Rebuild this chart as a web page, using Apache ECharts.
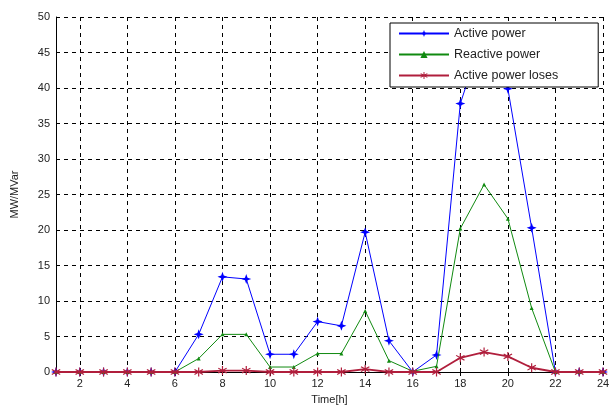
<!DOCTYPE html>
<html>
<head>
<meta charset="utf-8">
<script src="https://cdn.jsdelivr.net/npm/echarts@6/dist/echarts.min.js"></script>
<style>html,body{margin:0;padding:0;background:#fff}#c{width:613px;height:410px}</style>
</head>
<body>
<div id="c"></div>
<script>
const hours = ['1','2','3','4','5','6','7','8','9','10','11','12','13','14','15','16','17','18','19','20','21','22','23','24'];
const activePower = [0,0,0,0,0,0,5.3,13.4,13.1,2.5,2.5,7.1,6.5,19.7,4.4,0,2.4,37.8,48,39.9,20.3,0,0,0];
const reactivePower = [0,0,0,0,0,0,1.9,5.3,5.3,0.7,0.7,2.6,2.6,8.6,1.6,0.1,0.8,20.2,26.4,21.6,9.0,0,0,0];
const powerLosses = [0,0,0,0,0,0,0,0.2,0.2,0,0,0,0,0.4,0,0,0,2.0,2.8,2.2,0.6,0,0,0];
const seriesNames = ['Active power','Reactive power','Active power loses'];

const FONT = 'Liberation Sans';
const even = (i, v) => (+v) % 2 === 0;
const plusStar = 'path://M0,-5 L1.3,-1.3 L5,0 L1.3,1.3 L0,5 L-1.3,1.3 L-5,0 L-1.3,-1.3Z';
const asterisk = 'path://M-0.6,-5 L0.6,-5 L0.6,-1.3 L3.9,-3.2 L4.5,-2.2 L1.2,-0.1 L4.5,2.2 L3.9,3.2 L0.6,1.2 L0.6,5 L-0.6,5 L-0.6,1.2 L-3.9,3.2 L-4.5,2.2 L-1.2,-0.1 L-4.5,-2.2 L-3.9,-3.2 L-0.6,-1.3Z';

const chart = echarts.init(document.getElementById('c'), null, {renderer: 'canvas'});
const dashed = {show: true, lineStyle: {color: '#000', type: [4, 4], width: 1}};
chart.setOption({
  animation: false,
  backgroundColor: '#fff',
  textStyle: {fontFamily: FONT},
  grid: {left: 56, right: 10, top: 17, bottom: 34},
  legend: {
    orient: 'vertical', left: 390, top: 23,
    backgroundColor: '#fff', borderColor: '#000', borderWidth: 1, borderRadius: 0,
    padding: [4, 40, 5, 8], itemWidth: 50, itemHeight: 9, itemGap: 8,
    textStyle: {fontFamily: FONT, fontSize: 12.5, color: '#222'},
    data: seriesNames
  },
  xAxis: [{
    type: 'category', data: hours, boundaryGap: false,
    name: 'Time[h]', nameLocation: 'middle', nameGap: 22,
    nameTextStyle: {fontFamily: FONT, fontSize: 11, color: '#222'},
    axisLine: {show: true, lineStyle: {color: '#000', width: 1}},
    axisTick: {show: true, inside: true, length: 4, interval: even, lineStyle: {color: '#000'}},
    axisLabel: {interval: even, fontSize: 11, color: '#222', margin: 6},
    splitLine: Object.assign({interval: even}, dashed)
  }, {
    type: 'category', data: hours, boundaryGap: false, position: 'top',
    axisLine: {show: false},
    axisTick: {show: true, inside: true, length: 4, interval: even, lineStyle: {color: '#000'}},
    axisLabel: {show: false}, splitLine: {show: false}
  }],
  yAxis: [{
    type: 'value', min: 0, max: 50, interval: 5,
    name: 'MW/MVar', nameLocation: 'middle', nameGap: 36, nameRotate: 90,
    nameTextStyle: {fontFamily: FONT, fontSize: 11, color: '#222'},
    axisLine: {show: true, lineStyle: {color: '#000', width: 1}},
    axisTick: {show: true, inside: true, length: 4, lineStyle: {color: '#000'}},
    axisLabel: {fontSize: 11, color: '#222', margin: 6},
    splitLine: dashed
  }, {
    type: 'value', min: 0, max: 50, interval: 5, position: 'right',
    axisLine: {show: false},
    axisTick: {show: true, inside: true, length: 4, lineStyle: {color: '#000'}},
    axisLabel: {show: false}, splitLine: {show: false}
  }],
  series: [
    {name: seriesNames[0], type: 'line', data: activePower, symbol: plusStar, symbolSize: 10,
     color: '#0000ff', lineStyle: {width: 1, color: '#0000ff'}, itemStyle: {color: '#0000ff'}, clip: true, z: 2},
    {name: seriesNames[1], type: 'line', data: reactivePower, symbol: 'triangle', symbolSize: 4,
     color: '#108a10', lineStyle: {width: 1, color: '#108a10'}, itemStyle: {color: '#108a10'}, clip: true, z: 3},
    {name: seriesNames[2], type: 'line', data: powerLosses, symbol: asterisk, symbolSize: 9,
     color: '#b01e3c', lineStyle: {width: 1.8, color: '#b01e3c'}, itemStyle: {color: '#b01e3c'}, clip: false, z: 4}
  ]
});
</script>
</body>
</html>
